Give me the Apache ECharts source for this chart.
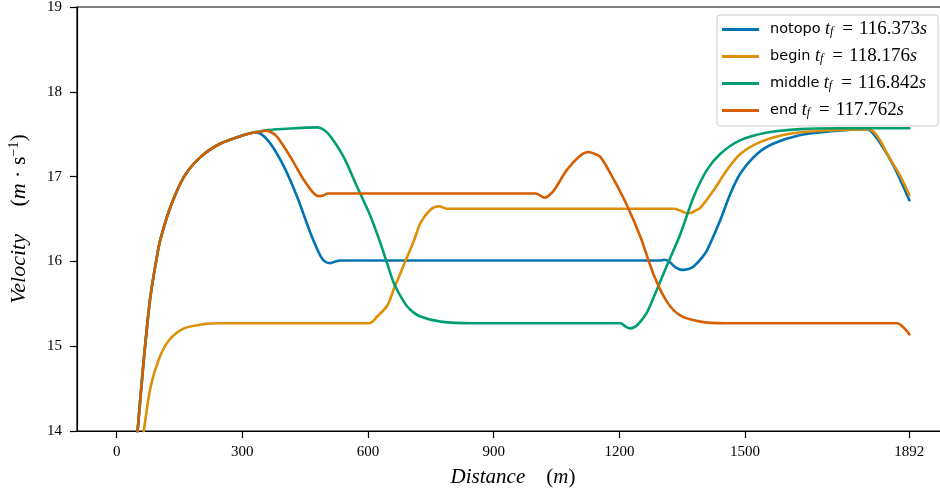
<!DOCTYPE html>
<html>
<head>
<meta charset="utf-8">
<script src="https://cdn.jsdelivr.net/npm/echarts@6/dist/echarts.min.js"></script>
<style>
html,body{margin:0;padding:0;background:#fff;}
#chart{width:940px;height:491px;}
</style>
</head>
<body>
<div id="chart"></div>
<script>
// ---- data ----
var seriesNames = ['notopo', 'begin', 'middle', 'end'];
var finalTimes = [116.373, 118.176, 116.842, 117.762];
var xTickValues = [0, 300, 600, 900, 1200, 1500, 1892];

// common acceleration phase (notopo / middle / end)
var ascent = [[42,13.5],[50,14.0],[64,14.8],[73,15.25],[81,15.6],[97,16.08],[105,16.27],[129,16.65],[161,17.0],[200,17.23],[248,17.39],[304,17.49],[328,17.52]];

var notopoTail = [[345,17.5],[367,17.39],[399,17.12],[431,16.76],[463,16.33],[487,16.06],[500,15.99],[511,15.98],[522,16.0],[534,16.01],[700,16.01],[900,16.01],[1100,16.01],[1298,16.01],[1306,16.02],[1318,16.0],[1334,15.93],[1350,15.90],[1365,15.91],[1377,15.94],[1393,16.02],[1409,16.13],[1441,16.49],[1465,16.80],[1489,17.04],[1529,17.27],[1568,17.39],[1632,17.49],[1696,17.53],[1783,17.56],[1799,17.54],[1823,17.39],[1855,17.12],[1892,16.72]];

var begin = [[55,13.7],[65,14.01],[81,14.52],[101,14.85],[125,15.07],[161,15.21],[208,15.26],[248,15.27],[400,15.27],[602,15.27],[622,15.35],[646,15.48],[662,15.68],[678,15.87],[694,16.06],[710,16.25],[725,16.45],[749,16.61],[769,16.65],[789,16.62],[800,16.62],[1000,16.62],[1329,16.62],[1345,16.6],[1360,16.57],[1370,16.57],[1382,16.6],[1393,16.63],[1425,16.84],[1457,17.08],[1489,17.27],[1537,17.41],[1600,17.5],[1680,17.54],[1791,17.56],[1807,17.53],[1823,17.42],[1839,17.27],[1871,17.0],[1892,16.78]];

var middleTail = [[360,17.55],[423,17.57],[479,17.58],[495,17.55],[511,17.47],[542,17.23],[574,16.88],[606,16.53],[630,16.21],[646,15.97],[662,15.74],[686,15.52],[701,15.43],[725,15.35],[773,15.29],[850,15.27],[1203,15.27],[1215,15.23],[1226,15.21],[1238,15.23],[1250,15.29],[1266,15.4],[1282,15.58],[1314,15.96],[1346,16.33],[1377,16.76],[1409,17.08],[1441,17.27],[1489,17.43],[1553,17.52],[1632,17.56],[1727,17.57],[1892,17.57]];

var endTail = [[345,17.53],[356,17.54],[370,17.52],[383,17.47],[415,17.23],[447,16.96],[471,16.8],[483,16.77],[495,16.78],[503,16.8],[700,16.8],[1000,16.8],[1010,16.78],[1020,16.75],[1030,16.77],[1044,16.84],[1075,17.08],[1107,17.25],[1127,17.29],[1140,17.27],[1155,17.23],[1187,16.96],[1219,16.65],[1250,16.29],[1282,15.84],[1314,15.52],[1346,15.36],[1393,15.29],[1450,15.27],[1863,15.27],[1878,15.22],[1892,15.14]];

var notopo = ascent.concat(notopoTail);
var middle = ascent.concat(middleTail);
var end = ascent.concat(endTail);
var seriesData = [notopo, begin, middle, end];
var colors = ['#0173b2', '#de8f05', '#029e73', '#d55e00'];

var chart = echarts.init(document.getElementById('chart'), null, {renderer: 'canvas'});
var serif = 'Liberation Serif';

var option = {
  animation: false,
  backgroundColor: '#fff',
  grid: {left: 77, top: 7, right: -9, bottom: 60, outerBoundsMode: 'none', containLabel: false,
    show: true, borderColor: '#000', borderWidth: 1.2, backgroundColor: 'transparent'},
  legend: {
    orient: 'vertical',
    left: 717, top: 15,
    padding: [5, 11, 6, 5],
    itemWidth: 37, itemHeight: 3, itemGap: 8,
    icon: 'rect',
    backgroundColor: '#fff',
    borderColor: '#cccccc', borderWidth: 1, borderRadius: 3,
    data: seriesNames,
    formatter: function (name) {
      var i = seriesNames.indexOf(name);
      return '{a|' + name + '} {t|t}{f|f}{q|=}{e|' + finalTimes[i].toFixed(3) + '}{t|s}';
    },
    textStyle: {
      color: '#000',
      rich: {
        a: {fontFamily: 'DejaVu Sans', fontSize: 14.5, color: '#000', padding: [0, 1, 0, 6], lineHeight: 17},
        t: {fontFamily: serif, fontStyle: 'italic', fontSize: 18, color: '#000', lineHeight: 17},
        f: {fontFamily: serif, fontStyle: 'italic', fontSize: 12, color: '#000', verticalAlign: 'bottom', lineHeight: 11, padding: [5, 2, 0, 0]},
        q: {fontFamily: serif, fontSize: 19, color: '#000', lineHeight: 17, padding: [0, 6, 0, 7]},
        e: {fontFamily: serif, fontSize: 19, color: '#000', lineHeight: 17}
      }
    }
  },
  xAxis: {
    type: 'value',
    min: -94.6, max: 1986.6,
    name: '{i|Distance}{n|    (}{i|m}{n|)}',
    nameLocation: 'middle',
    nameGap: 36,
    nameTextStyle: {
      rich: {
        i: {fontFamily: serif, fontStyle: 'italic', fontSize: 21, color: '#000'},
        n: {fontFamily: serif, fontSize: 21, color: '#000'}
      }
    },
    axisLine: {show: true, onZero: false, lineStyle: {color: '#000', width: 1.2}},
    axisTick: {show: true, length: 7, lineStyle: {color: '#000', width: 1.2}, customValues: xTickValues},
    axisLabel: {customValues: xTickValues, color: '#000', fontFamily: serif, fontSize: 15, margin: 14,
      formatter: function (v) { return String(v); }},
    splitLine: {show: false}
  },
  yAxis: {
    type: 'value',
    min: 14, max: 19, interval: 1,
    name: '{i|Velocity}{n|     (}{i|m}{n| · s}{sup|−1}{n|)}',
    nameLocation: 'middle',
    nameGap: 46,
    nameRotate: 90,
    nameTextStyle: {
      rich: {
        i: {fontFamily: serif, fontStyle: 'italic', fontSize: 22, color: '#000', lineHeight: 24},
        n: {fontFamily: serif, fontSize: 22, color: '#000', lineHeight: 24},
        sup: {fontFamily: serif, fontSize: 14, color: '#000', verticalAlign: 'top', lineHeight: 14}
      }
    },
    axisLine: {show: true, onZero: false, lineStyle: {color: '#000', width: 1.2}},
    axisTick: {show: true, length: 7, lineStyle: {color: '#000', width: 1.2}},
    axisLabel: {color: '#000', fontFamily: serif, fontSize: 15, margin: 15},
    splitLine: {show: false}
  },
  series: seriesNames.map(function (n, i) {
    return {
      name: n,
      type: 'line',
      data: seriesData[i],
      showSymbol: false,
      smooth: 0.3,
      clip: true,
      color: colors[i],
      lineStyle: {width: 2.6, color: colors[i], cap: 'round', join: 'round'}
    };
  })
};
chart.setOption(option);
</script>
</body>
</html>
